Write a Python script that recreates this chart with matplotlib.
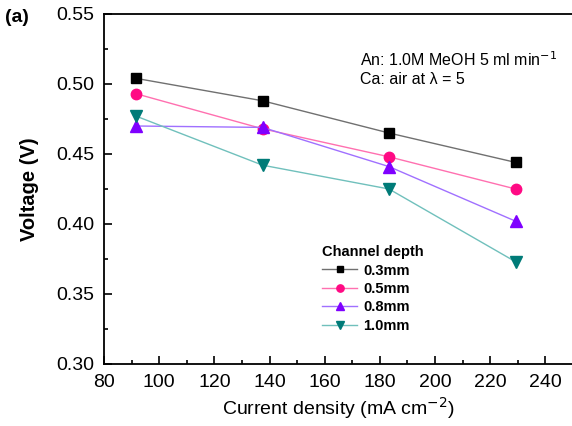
import matplotlib
matplotlib.use("Agg")
import matplotlib.pyplot as plt

plt.rcParams['font.family'] = ['Liberation Sans', 'DejaVu Sans']

current = [91.7, 137.5, 183.3, 229.2]
v_03 = [0.504, 0.488, 0.465, 0.444]
v_05 = [0.493, 0.468, 0.448, 0.425]
v_08 = [0.470, 0.469, 0.441, 0.402]
v_10 = [0.477, 0.442, 0.425, 0.373]
labels = ["0.3mm", "0.5mm", "0.8mm", "1.0mm"]

series = [v_03, v_05, v_08, v_10]
markers = ["s", "o", "^", "v"]
msizes = [7, 7.5, 8.5, 8.5]
mcolors = ["#000000", "#ff0a84", "#7f00ff", "#007b78"]
lcolors = ["#707070", "#ff70b0", "#a070ff", "#70c0bc"]

fig = plt.figure(figsize=(5.72, 4.26), dpi=100)
W, H = 572, 426
ax = fig.add_axes([104 / W, 1 - 364 / H, (573 - 104) / W, (364 - 14) / H])

for y, m, ms, mc, lc, lab in zip(series, markers, msizes, mcolors, lcolors, labels):
    ax.plot(current, y, color=lc, lw=1.0, marker=m, markersize=ms,
            markerfacecolor=mc, markeredgecolor=mc, label=lab)

ax.set_xlim(80, 250)
ax.set_ylim(0.30, 0.55)
ax.set_xticks(range(80, 241, 20))
ax.set_xticks(range(90, 250, 20), minor=True)
ax.set_yticks([0.30, 0.35, 0.40, 0.45, 0.50, 0.55])
ax.set_yticks([0.325, 0.375, 0.425, 0.475, 0.525], minor=True)
ax.yaxis.set_major_formatter(matplotlib.ticker.FormatStrFormatter('%.2f'))
ax.tick_params(which='both', direction='in', width=1.2, labelsize=14, pad=7)
ax.tick_params(which='major', length=6)
ax.tick_params(which='minor', length=3)
for s in ax.spines.values():
    s.set_linewidth(1.3)

ax.set_xlabel("Current density (mA cm$^{-2}$)", fontsize=14, labelpad=3)
ax.set_ylabel("Voltage (V)", fontsize=14.5, fontweight='bold', labelpad=12)

fig.text(5 / W, 1 - 18 / H, "(a)", fontsize=14, fontweight='bold', va='center')

ax.text(360 / W, 1 - 60 / H, "An: 1.0M MeOH 5 ml min$^{-1}$", transform=fig.transFigure,
        fontsize=11.5, va='center')
ax.text(360 / W, 1 - 80 / H, "Ca: air at \u03bb = 5", transform=fig.transFigure,
        fontsize=11.5, va='center')

leg = ax.legend(loc='upper left', bbox_to_anchor=(312 / W, 1 - 235 / H),
                bbox_transform=fig.transFigure, frameon=False,
                title="Channel depth", prop={'weight': 'bold', 'size': 10.5},
                handlelength=2.4, handletextpad=0.4, labelspacing=0.3,
                borderpad=0.2, markerscale=0.7)
leg.get_title().set_fontweight('bold')
leg.get_title().set_fontsize(10.5)
leg._legend_box.align = "left"

fig.savefig("out.png", dpi=100)
